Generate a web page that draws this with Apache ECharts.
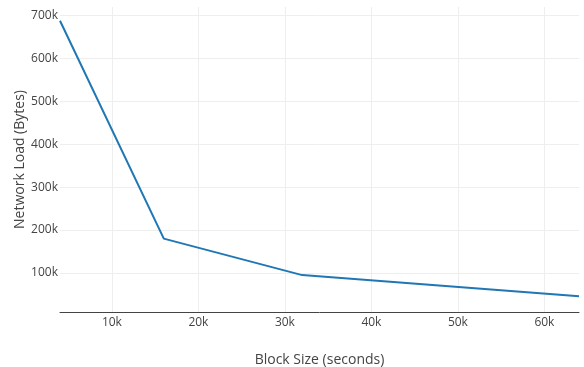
<!DOCTYPE html>
<html>
<head>
<meta charset="utf-8">
<script src="https://cdn.jsdelivr.net/npm/echarts@6/dist/echarts.min.js"></script>
<style>
html,body{margin:0;padding:0;background:#fff;}
#chart{width:584px;height:367px;}
</style>
</head>
<body>
<div id="chart"></div>
<script>
const blockSizes = [4000, 16000, 32000, 64000];
const networkLoad = [688000, 180000, 95000, 46000];

const chart = echarts.init(document.getElementById('chart'), null, {renderer: 'canvas'});
const kfmt = v => (v / 1000) + 'k';
const font = '"Open Sans", sans-serif';

chart.setOption({
  animation: false,
  backgroundColor: '#fff',
  textStyle: {fontFamily: font},
  grid: {left: 60, right: 5, top: 7, bottom: 55, containLabel: false, outerBoundsMode: 'none'},
  xAxis: {
    type: 'value',
    min: 4000,
    max: 64000,
    splitNumber: 5,
    name: 'Block Size (seconds)',
    nameLocation: 'middle',
    nameGap: 41,
    nameMoveOverlap: false,
    nameTextStyle: {fontSize: 14, color: '#444', fontFamily: font},
    axisLine: {show: true, lineStyle: {color: '#444', width: 1}},
    axisTick: {show: false},
    axisLabel: {formatter: kfmt, color: '#444', fontSize: 12, margin: 5, showMinLabel: false, showMaxLabel: false, fontFamily: font},
    splitLine: {show: true, showMinLine: false, showMaxLine: false, lineStyle: {color: '#eee', width: 1}}
  },
  yAxis: {
    type: 'value',
    min: 9000,
    max: 720000,
    splitNumber: 5,
    name: 'Network Load (Bytes)',
    nameLocation: 'middle',
    nameGap: 40,
    nameMoveOverlap: false,
    nameRotate: 90,
    nameTextStyle: {fontSize: 14, color: '#444', fontFamily: font, verticalAlign: 'middle'},
    axisLine: {show: false},
    axisTick: {show: false},
    axisLabel: {formatter: kfmt, color: '#444', fontSize: 12, margin: 2, showMinLabel: false, showMaxLabel: false, fontFamily: font},
    splitLine: {show: true, showMinLine: false, showMaxLine: false, lineStyle: {color: '#eee', width: 1}}
  },
  series: [{
    type: 'line',
    data: blockSizes.map((x, i) => [x, networkLoad[i]]),
    symbol: 'none',
    lineStyle: {color: '#1f77b4', width: 2},
    itemStyle: {color: '#1f77b4'}
  }]
});
</script>
</body>
</html>
